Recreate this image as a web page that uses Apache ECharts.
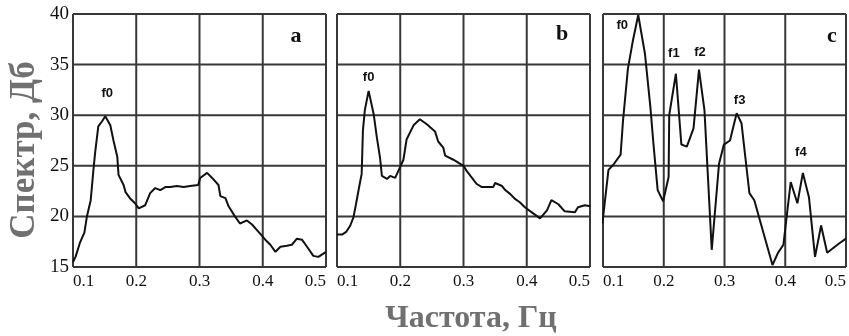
<!DOCTYPE html>
<html>
<head>
<meta charset="utf-8">
<script src="https://cdn.jsdelivr.net/npm/echarts@6/dist/echarts.min.js"></script>
<style>
html, body {margin:0; padding:0; background:#fff;}
#chart {width:849px; height:336px;}
</style>
</head>
<body>
<div id="chart"></div>
<script>
// частоты (Гц) и спектр (дБ)
var freqA = [0.100,0.104,0.111,0.118,0.122,0.128,0.132,0.135,0.140,0.146,0.151,0.159,0.164,0.170,0.172,0.180,0.183,0.190,0.198,0.204,0.214,0.222,0.230,0.238,0.246,0.254,0.264,0.275,0.285,0.298,0.301,0.312,0.320,0.330,0.333,0.341,0.346,0.356,0.364,0.375,0.383,0.393,0.404,0.412,0.420,0.428,0.438,0.446,0.454,0.462,0.470,0.480,0.488,0.500];
var specA = [15.5,16.0,17.4,18.4,20.0,21.6,24.4,26.3,28.9,29.4,29.9,29.0,27.5,25.9,24.1,23.1,22.4,21.8,21.3,20.8,21.1,22.3,22.8,22.6,22.9,22.9,23.0,22.9,23.0,23.1,23.8,24.3,23.8,23.1,22.0,21.8,21.0,20.0,19.3,19.6,19.2,18.5,17.7,17.2,16.5,17.0,17.1,17.2,17.8,17.7,17.0,16.1,16.0,16.5];

var freqB = [0.100,0.108,0.115,0.121,0.126,0.130,0.135,0.139,0.141,0.144,0.150,0.158,0.163,0.168,0.171,0.179,0.184,0.192,0.197,0.205,0.210,0.221,0.231,0.242,0.255,0.260,0.268,0.271,0.284,0.300,0.305,0.311,0.321,0.329,0.347,0.350,0.361,0.366,0.374,0.382,0.389,0.397,0.408,0.421,0.432,0.439,0.450,0.460,0.476,0.481,0.492,0.500];
var specB = [18.2,18.2,18.5,19.1,19.9,21.2,22.9,24.2,28.5,30.5,32.4,30.1,27.8,25.8,24.0,23.7,24.0,23.8,24.5,25.6,27.6,29.0,29.6,29.1,28.4,27.4,26.8,26.0,25.6,25.0,24.5,24.0,23.2,22.9,22.9,23.3,23.0,22.6,22.2,21.7,21.4,20.9,20.4,19.8,20.6,21.6,21.2,20.5,20.4,20.9,21.1,21.0];

var freqC = [0.099,0.109,0.117,0.129,0.133,0.141,0.149,0.158,0.169,0.178,0.183,0.190,0.199,0.208,0.209,0.220,0.229,0.238,0.249,0.258,0.267,0.279,0.291,0.299,0.309,0.320,0.328,0.341,0.349,0.379,0.388,0.397,0.409,0.420,0.429,0.439,0.449,0.459,0.469,0.488,0.500];
var specC = [19.3,24.6,25.1,26.1,29.5,34.6,37.3,39.9,36.1,30.8,27.2,22.6,21.5,23.9,30.0,34.1,27.1,26.9,28.7,34.5,30.5,16.7,25.2,27.1,27.5,30.2,29.2,22.3,21.6,15.2,16.4,17.2,23.4,21.3,24.3,21.9,16.0,19.1,16.4,17.3,17.8];

var xTicks = [0.1, 0.2, 0.3, 0.4, 0.5];
var yTicks = [15, 20, 25, 30, 35, 40];

// подписи пиков
var peaksA = [{name:'f0', x:0.151, y:29.9, dx:2, dy:-23}];
var peaksB = [{name:'f0', x:0.150, y:32.4, dx:0, dy:-13}];
var peaksC = [
    {name:'f0', x:0.158, y:39.9, dx:-16, dy:10},
    {name:'f1', x:0.220, y:34.1, dx:-2, dy:-20},
    {name:'f2', x:0.258, y:34.5, dx:1, dy:-17},
    {name:'f3', x:0.320, y:30.2, dx:3, dy:-13},
    {name:'f4', x:0.429, y:24.3, dx:-2, dy:-20}
];

function zip(xs, ys) {
    return xs.map(function (v, i) { return [v, ys[i]]; });
}

function marks(list) {
    return list.map(function (p) {
        return {name: p.name, coord: [p.x, p.y], label: {offset: [p.dx, p.dy]}};
    });
}

var gridColor = '#383838';
var serif = '"Liberation Serif", "DejaVu Serif", serif';
var x0 = xTicks[0], x1 = xTicks[xTicks.length - 1];
var y0 = yTicks[0], y1 = yTicks[yTicks.length - 1];

// линии сетки (вместе с рамкой) рисуем отдельными сериями по тикам
function gridSeries(i) {
    var out = [];
    var segs = [];
    xTicks.forEach(function (v) { segs.push([[v, y0], [v, y1]]); });
    yTicks.forEach(function (v) { segs.push([[x0, v], [x1, v]]); });
    segs.forEach(function (s) {
        out.push({
            type: 'line', xAxisIndex: i, yAxisIndex: i, data: s, z: 1, clip: false,
            symbol: 'none', silent: true, lineStyle: {color: gridColor, width: 2, opacity: 1}
        });
    });
    return out;
}

function xAx(i) {
    return {
        type: 'value', gridIndex: i, min: x0, max: x1, interval: 0.1,
        axisLine: {show: false},
        axisTick: {show: false},
        splitLine: {show: false},
        axisLabel: {
            color: '#111', fontFamily: serif, fontSize: 17, margin: 6,
            alignMinLabel: 'left', alignMaxLabel: 'right',
            formatter: function (v) { return v.toFixed(1); }
        }
    };
}

function yAx(i, labels) {
    return {
        type: 'value', gridIndex: i, min: y0, max: y1, interval: 5,
        axisLine: {show: false},
        axisTick: {show: false},
        splitLine: {show: false},
        axisLabel: {show: labels, color: '#111', fontFamily: serif, fontSize: 19, margin: 4}
    };
}

function line(i, data, peaks) {
    return {
        type: 'line', xAxisIndex: i, yAxisIndex: i, data: data, z: 5,
        symbol: 'none', lineStyle: {color: '#111', width: 2}, silent: true,
        markPoint: {
            symbol: 'circle', symbolSize: 0, silent: true,
            label: {
                show: true, position: 'inside', formatter: '{b}', color: '#111',
                fontFamily: '"Liberation Sans", Arial, sans-serif', fontWeight: 'bold', fontSize: 13
            },
            data: marks(peaks)
        }
    };
}

var series = [];
[0, 1, 2].forEach(function (i) { series = series.concat(gridSeries(i)); });
series.push(line(0, zip(freqA, specA), peaksA));
series.push(line(1, zip(freqB, specB), peaksB));
series.push(line(2, zip(freqC, specC), peaksC));

var myChart = echarts.init(document.getElementById('chart'));
var option = {
    animation: false,
    backgroundColor: '#fff',
    grid: [
        {left: 73, top: 14, width: 253, height: 253},
        {left: 337, top: 14, width: 253, height: 253},
        {left: 603, top: 14, width: 253, height: 253}
    ],
    xAxis: [xAx(0), xAx(1), xAx(2)],
    yAxis: [yAx(0, true), yAx(1, false), yAx(2, false)],
    series: series,
    graphic: [
        {type: 'text', x: 296, y: 36, style: {text: 'a', font: 'bold 22px ' + serif, fill: '#111', textAlign: 'center', textVerticalAlign: 'middle'}},
        {type: 'text', x: 562, y: 34, style: {text: 'b', font: 'bold 22px ' + serif, fill: '#111', textAlign: 'center', textVerticalAlign: 'middle'}},
        {type: 'text', x: 832, y: 36, style: {text: 'c', font: 'bold 22px ' + serif, fill: '#111', textAlign: 'center', textVerticalAlign: 'middle'}},
        {type: 'text', x: 25, y: 150, rotation: Math.PI / 2,
            style: {text: 'Спектр, Дб', font: 'bold 35px ' + serif, fill: '#707070', textAlign: 'center', textVerticalAlign: 'middle'}},
        {type: 'text', x: 471, y: 319,
            style: {text: 'Частота, Гц', font: 'bold 32px ' + serif, fill: '#707070', textAlign: 'center', textVerticalAlign: 'middle'}}
    ]
};
myChart.setOption(option);
</script>
</body>
</html>
